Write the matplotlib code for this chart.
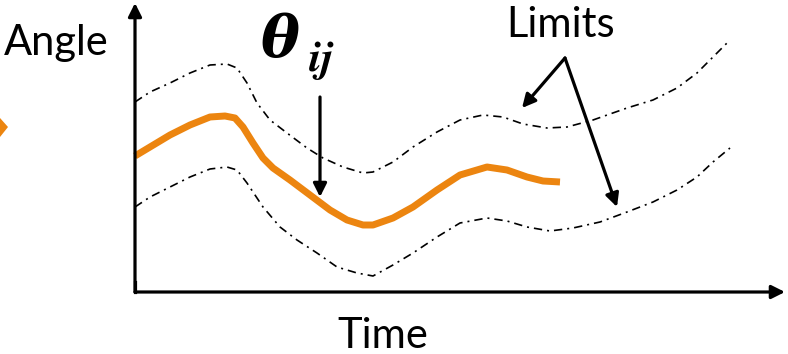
import numpy as np
import matplotlib
matplotlib.use("Agg")
import matplotlib.pyplot as plt
from matplotlib.patches import Polygon

plt.rcParams['mathtext.fontset'] = 'stix'

# schematic curves, time / angle units with origin at the axis corner
theta_t = [0, 15, 35, 55, 75, 90, 100, 108, 118, 128, 138, 155, 175, 195,
           212, 228, 238, 258, 278, 302, 325, 352, 372, 392, 408, 425]
theta_a = [136, 145, 157, 167, 175, 176, 174, 165, 149, 134, 124, 112, 97,
           82, 72, 67, 67, 74, 85, 102, 117, 125, 122, 115, 111, 110]

upper_t = [0, 15, 35, 55, 75, 92, 102, 112, 122, 135, 152, 172, 188, 208,
           228, 238, 258, 278, 302, 325, 348, 368, 388, 412, 432, 458, 492,
           518, 542, 562, 578, 592]
upper_a = [190, 200, 209, 219, 227, 228, 224, 209, 189, 172, 159, 144, 134,
           125, 119, 120, 130, 145, 160, 172, 177, 175, 168, 164, 165, 172,
           184, 192, 204, 219, 235, 249]

lower_t = [0, 15, 35, 55, 75, 92, 102, 112, 128, 145, 162, 182, 202, 222,
           238, 258, 278, 302, 325, 352, 372, 392, 415, 438, 465, 492, 518,
           542, 562, 578, 595]
lower_a = [85, 95, 105, 115, 123, 125, 122, 109, 85, 65, 52, 39, 25, 19, 16,
           27, 39, 55, 69, 74, 71, 65, 61, 64, 70, 80, 90, 102, 115, 130, 144]

orange = '#EC8510'
font = 'Lato'

fig = plt.figure(figsize=(7.88, 3.54), dpi=100)
ax = fig.add_axes([0, 0, 1, 1])
ax.set_xlim(-135, 653)
ax.set_ylim(-62, 292)
ax.axis('off')

dashdot = (0, (5, 3, 1.2, 3))
ax.plot(upper_t, upper_a, color='black', lw=1.2, linestyle=dashdot)
ax.plot(lower_t, lower_a, color='black', lw=1.2, linestyle=dashdot)
ax.plot(theta_t, theta_a, color=orange, lw=5, solid_capstyle='butt',
        solid_joinstyle='round')

def arrow(start, end, lw=2.3, scale=20):
    ax.annotate('', xy=end, xytext=start,
                arrowprops=dict(arrowstyle='-|>', color='black', lw=lw,
                                mutation_scale=scale, shrinkA=0, shrinkB=0))

# axes
arrow((0, 0), (0, 289))
arrow((0, 0), (650, 0))
ax.plot([0, 0], [0, 10], color='black', lw=2.3)

# pointers
arrow((185, 195), (185, 95))
arrow((430, 234), (387, 184))
arrow((430, 234), (482, 85))

ax.add_patch(Polygon([(-135, 174), (-127, 165), (-135, 155)], closed=True,
                     color=orange, lw=0))

ax.text(-131, 237, 'Angle', fontsize=30, family=font, va='baseline')
ax.text(371, 255, 'Limits', fontsize=30, family=font, va='baseline')
ax.text(202, -56, 'Time', fontsize=30, family=font, va='baseline')
ax.text(126, 235, 'θ', fontsize=42, family='DejaVu Serif', style='italic',
        weight='bold', va='baseline')
ax.text(173, 221, r'$\boldsymbol{ij}$', fontsize=32, va='baseline')

fig.savefig('out.png', dpi=100)
